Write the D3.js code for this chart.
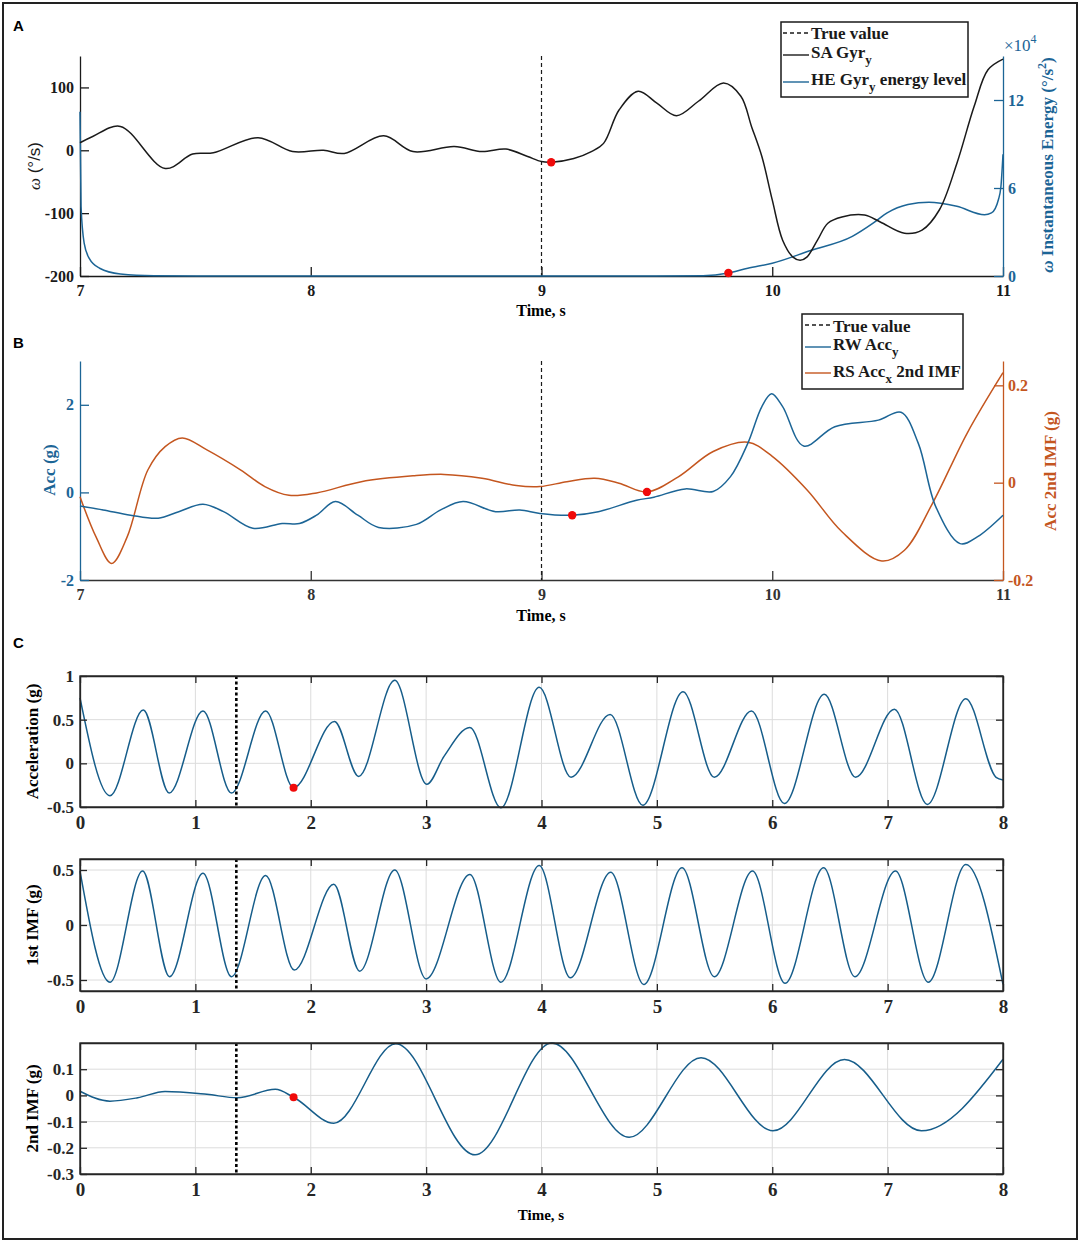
<!DOCTYPE html>
<html>
<head>
<meta charset="utf-8">
<script src="https://cdn.jsdelivr.net/npm/d3@7"></script>
<style>
body { margin: 0; background: #fff; }
text { font-family: "Liberation Serif", "Times New Roman", serif; font-weight: bold; }
</style>
</head>
<body>
<div id="chart"></div>
<script>
// ---------- data ----------

// Panel A: SA Gyr_y (deg/s) and HE Gyr_y energy level (x10^4)
const gyrTime  = [7.0, 7.055, 7.175, 7.369, 7.488, 7.578, 7.772, 7.921, 8.055, 8.145, 8.316, 8.443, 8.622, 8.742, 8.846, 8.94, 9.0, 9.042, 9.14, 9.216, 9.269, 9.336, 9.419, 9.5, 9.585, 9.68, 9.789, 9.864, 9.91, 9.955, 10.0, 10.045, 10.09, 10.121, 10.15, 10.196, 10.241, 10.302, 10.4, 10.468, 10.573, 10.649, 10.724, 10.8, 10.875, 10.935, 11.0];
const gyrValue = [12, 22, 38, -29, -6, -4, 20, -2, 0, -5, 23, -2, 6, -2, 2, -10, -18, -19, -13, -2, 11, 64, 94, 75, 55, 78, 107, 86, 38, -10, -79, -143, -170, -175, -170, -143, -116, -106, -103, -114, -132, -127, -95, -21, 70, 128, 145];
const energyTime  = [7.0, 7.0045, 7.018, 7.04, 7.085, 7.175, 7.32, 7.6, 8.5, 9.5, 9.7, 9.81, 9.894, 10.0, 10.166, 10.347, 10.437, 10.498, 10.588, 10.679, 10.8, 10.92, 10.95, 10.98, 10.991, 11.0];
const energyValue = [11.2, 4.75, 2.24, 1.2, 0.53, 0.14, 0.02, 0, 0, 0, 0.02, 0.2, 0.53, 0.87, 1.74, 2.7, 3.6, 4.3, 4.87, 5.03, 4.75, 4.18, 4.3, 5.2, 6.1, 8.3];

// Panel B: RW Acc_y (g) and RS Acc_x 2nd IMF (g)
const accTime  = [7.0, 7.1, 7.219, 7.339, 7.428, 7.533, 7.622, 7.749, 7.876, 7.951, 8.025, 8.107, 8.204, 8.294, 8.458, 8.563, 8.66, 8.801, 8.906, 8.993, 9.133, 9.246, 9.412, 9.487, 9.623, 9.744, 9.819, 9.894, 9.955, 9.997, 10.045, 10.136, 10.271, 10.46, 10.558, 10.633, 10.709, 10.814, 10.89, 11.0];
const accValue = [-0.31, -0.40, -0.52, -0.59, -0.44, -0.27, -0.44, -0.82, -0.71, -0.71, -0.52, -0.21, -0.52, -0.80, -0.73, -0.40, -0.21, -0.44, -0.40, -0.48, -0.52, -0.44, -0.18, -0.11, 0.08, 0.02, 0.36, 1.12, 1.96, 2.25, 1.96, 1.06, 1.50, 1.65, 1.83, 1.12, -0.33, -1.17, -1.01, -0.52];
const imfTime  = [7.0, 7.07, 7.137, 7.204, 7.294, 7.369, 7.443, 7.548, 7.697, 7.801, 7.906, 8.025, 8.219, 8.443, 8.578, 8.742, 8.891, 8.993, 9.11, 9.231, 9.336, 9.457, 9.593, 9.744, 9.894, 10.0, 10.151, 10.302, 10.475, 10.573, 10.694, 10.845, 11.0];
const imfValue = [-0.029, -0.112, -0.166, -0.112, 0.026, 0.074, 0.092, 0.068, 0.026, -0.008, -0.026, -0.021, 0.002, 0.014, 0.017, 0.009, -0.006, -0.008, 0.002, 0.009, -0.001, -0.019, 0.012, 0.064, 0.083, 0.054, -0.015, -0.101, -0.161, -0.139, -0.043, 0.102, 0.226];

// Panel C: acceleration, 1st IMF, 2nd IMF (g)
const c1Time  = [0, 0.26, 0.549, 0.773, 1.066, 1.313, 1.609, 1.851, 2.206, 2.415, 2.728, 3.006, 3.155, 3.379, 3.648, 3.98, 4.256, 4.595, 4.878, 5.227, 5.498, 5.82, 6.105, 6.451, 6.722, 7.059, 7.344, 7.678, 7.94, 8.0];
const c1Value = [0.75, -0.37, 0.61, -0.34, 0.60, -0.34, 0.60, -0.28, 0.48, -0.15, 0.95, -0.24, 0.08, 0.41, -0.51, 0.87, -0.16, 0.56, -0.48, 0.82, -0.16, 0.60, -0.46, 0.79, -0.16, 0.62, -0.47, 0.74, -0.16, -0.19];
const c2Time  = [0, 0.26, 0.543, 0.776, 1.066, 1.313, 1.609, 1.857, 2.2, 2.424, 2.728, 3.0, 3.379, 3.648, 3.98, 4.25, 4.6, 4.887, 5.218, 5.498, 5.829, 6.111, 6.445, 6.716, 7.068, 7.353, 7.678, 8.0];
const c2Value = [0.49, -0.52, 0.49, -0.47, 0.47, -0.47, 0.45, -0.41, 0.37, -0.42, 0.50, -0.49, 0.46, -0.52, 0.54, -0.48, 0.48, -0.54, 0.52, -0.47, 0.49, -0.53, 0.52, -0.47, 0.49, -0.52, 0.55, -0.54];
const c3Time  = [0, 0.26, 0.5, 0.737, 1.1, 1.364, 1.693, 1.851, 2.2, 2.737, 3.424, 4.09, 4.76, 5.383, 6.006, 6.626, 7.293, 8.0];
const c3Value = [0.016, -0.022, -0.009, 0.015, 0.004, -0.009, 0.023, -0.007, -0.106, 0.197, -0.227, 0.2, -0.16, 0.144, -0.135, 0.137, -0.135, 0.138];

// true value markers and detected points
const trueValueAB = 9.0;
const trueValueC = 1.355;
const detectA = [[9.042, -19]];
const detectAEnergy = [[9.81, 0.2]];
const detectBAcc = [[9.133, -0.52]];
const detectBImf = [[9.457, -0.019]];
const detectC1 = [[1.851, -0.28]];
const detectC3 = [[1.851, -0.007]];

// ticks
const timeTicksAB = [7, 8, 9, 10, 11];
const gyrTicks = [-200, -100, 0, 100];
const energyTicks = [0, 6, 12];
const accTicks = [-2, 0, 2];
const imfTicks = [-0.2, 0, 0.2];
const timeTicksC = [0, 1, 2, 3, 4, 5, 6, 7, 8];
const c1Ticks = [-0.5, 0, 0.5, 1];
const c2Ticks = [-0.5, 0, 0.5];
const c3Ticks = [-0.3, -0.2, -0.1, 0, 0.1];

// ---------- layout ----------
const width = 1084, height = 1246;
const xLeft = 80, xRight = 1003;
const black = "#1a1a1a", blue = "#1c6596", orange = "#c4561f", cBlue = "#165d8a";

const svg = d3.select("#chart")
    .append("svg")
    .attr("width", width)
    .attr("height", height);

// outer frame
svg.append("rect")
    .attr("x", 3).attr("y", 3)
    .attr("width", 1074).attr("height", 1236)
    .attr("fill", "none")
    .attr("stroke", "#222")
    .attr("stroke-width", 2);

const zip = (ts, vs) => ts.map((t, i) => [t, vs[i]]);
const fmt = d => String(d);
const smooth = d3.curveCatmullRom.alpha(0.5);

function styleAxis(g, color, size) {
    g.attr("font-family", null).attr("font-size", null);
    g.select(".domain").attr("stroke", color).attr("stroke-width", 1.3);
    g.selectAll(".tick line").attr("stroke", color).attr("stroke-width", 1.3);
    g.selectAll(".tick text").attr("fill", color).style("font-size", size + "px");
}

function drawLine(x, y, data, color, width, curve) {
    svg.append("path")
        .datum(data)
        .attr("fill", "none")
        .attr("stroke", color)
        .attr("stroke-width", width)
        .attr("d", d3.line().x(d => x(d[0])).y(d => y(d[1])).curve(curve || d3.curveMonotoneX));
}

function drawDots(x, y, data, r) {
    svg.selectAll(null)
        .data(data)
        .enter().append("circle")
        .attr("cx", d => x(d[0]))
        .attr("cy", d => y(d[1]))
        .attr("r", r)
        .attr("fill", "#f00a0a");
}

function rotLabel(x, y, color, size) {
    return svg.append("text")
        .attr("transform", `translate(${x},${y}) rotate(-90)`)
        .attr("text-anchor", "middle")
        .attr("fill", color)
        .style("font-size", size + "px");
}

function legendEntry(x, y, lineY, color, dash) {
    svg.append("line")
        .attr("x1", x).attr("x2", x + 26)
        .attr("y1", lineY).attr("y2", lineY)
        .attr("stroke", color)
        .attr("stroke-width", 1.4)
        .attr("stroke-dasharray", dash);
    return svg.append("text")
        .attr("x", x + 28).attr("y", y)
        .attr("fill", black)
        .style("font-size", "17px");
}

// subscript followed by optional trailing text
function sub(t, s, rest) {
    t.append("tspan").attr("dy", 6).style("font-size", "13px").text(s);
    t.append("tspan").attr("dy", -6).text(rest || "");
}

// ---------- Panel A ----------
const aTop = 56, aBottom = 276;
const xA = d3.scaleLinear().domain([7, 11]).range([xLeft, xRight]);
const yA = d3.scaleLinear().domain([-200, 150]).range([aBottom, aTop]);
const yAE = d3.scaleLinear().domain([0, 15]).range([aBottom, aTop]);

svg.append("text").attr("x", 13).attr("y", 31)
    .style("font-family", "Liberation Sans, Arial, sans-serif")
    .style("font-size", "15px").text("A");

svg.append("g").attr("transform", `translate(0,${aBottom})`)
    .call(d3.axisBottom(xA).tickValues(timeTicksAB).tickSize(-9).tickSizeOuter(0).tickPadding(9).tickFormat(fmt))
    .call(g => styleAxis(g, black, 16));
svg.append("g").attr("transform", `translate(${xLeft},0)`)
    .call(d3.axisLeft(yA).tickValues(gyrTicks).tickSize(-9).tickSizeOuter(0).tickPadding(6).tickFormat(fmt))
    .call(g => styleAxis(g, black, 16));
svg.append("g").attr("transform", `translate(${xRight},0)`)
    .call(d3.axisRight(yAE).tickValues(energyTicks).tickSize(-9).tickSizeOuter(0).tickPadding(5).tickFormat(fmt))
    .call(g => styleAxis(g, blue, 16));

const expA = svg.append("text").attr("x", 1004).attr("y", 51)
    .attr("fill", blue).style("font-size", "17px").style("font-weight", "normal").text("×10");
expA.append("tspan").attr("dy", -8).style("font-size", "12px").text("4");

svg.append("line")
    .attr("x1", xA(trueValueAB)).attr("x2", xA(trueValueAB))
    .attr("y1", aTop).attr("y2", aBottom)
    .attr("stroke", black).attr("stroke-width", 1.2).attr("stroke-dasharray", "4,3");

drawLine(xA, yAE, zip(energyTime, energyValue), blue, 1.5);
drawLine(xA, yA, zip(gyrTime, gyrValue), black, 1.5, smooth);
drawDots(xA, yA, detectA, 4.2);
drawDots(xA, yAE, detectAEnergy, 4.2);

const labA = rotLabel(40, 166, black, 17);
labA.append("tspan").style("font-style", "italic").style("font-weight", "normal").text("ω");
labA.append("tspan").style("font-family", "Liberation Sans, Arial, sans-serif").style("font-weight", "normal").text(" (°/s)");

const labAE = rotLabel(1053, 165, blue, 17);
labAE.append("tspan").style("font-style", "italic").text("ω");
labAE.append("tspan").text(" Instantaneous Energy (°/s");
labAE.append("tspan").attr("dy", -7).style("font-size", "12px").text("2");
labAE.append("tspan").attr("dy", 7).text(")");

svg.append("text").attr("x", 541).attr("y", 316).attr("text-anchor", "middle")
    .style("font-size", "16px").text("Time, s");

// legend A
svg.append("rect").attr("x", 781).attr("y", 22).attr("width", 187).attr("height", 75)
    .attr("fill", "#fff").attr("stroke", black).attr("stroke-width", 1.5);
legendEntry(783, 39, 33, black, "4,3").text("True value");
sub(legendEntry(783, 58, 55, black, null).text("SA Gyr"), "y");
sub(legendEntry(783, 85, 82, blue, null).text("HE Gyr"), "y", " energy level");

// ---------- Panel B ----------
const bTop = 361, bBottom = 580;
const xB = d3.scaleLinear().domain([7, 11]).range([xLeft, xRight]);
const yB = d3.scaleLinear().domain([-2, 3]).range([bBottom, bTop]);
const yBR = d3.scaleLinear().domain([-0.2, 0.25]).range([bBottom, bTop]);

svg.append("text").attr("x", 13).attr("y", 348)
    .style("font-family", "Liberation Sans, Arial, sans-serif")
    .style("font-size", "15px").text("B");

svg.append("g").attr("transform", `translate(0,${bBottom})`)
    .call(d3.axisBottom(xB).tickValues(timeTicksAB).tickSize(-9).tickSizeOuter(0).tickPadding(9).tickFormat(fmt))
    .call(g => styleAxis(g, "#333", 16));
svg.append("g").attr("transform", `translate(${xLeft},0)`)
    .call(d3.axisLeft(yB).tickValues(accTicks).tickSize(-9).tickSizeOuter(0).tickPadding(6).tickFormat(fmt))
    .call(g => styleAxis(g, blue, 16));
svg.append("g").attr("transform", `translate(${xRight},0)`)
    .call(d3.axisRight(yBR).tickValues(imfTicks).tickSize(-9).tickSizeOuter(0).tickPadding(5).tickFormat(fmt))
    .call(g => styleAxis(g, orange, 16));

svg.append("line")
    .attr("x1", xB(trueValueAB)).attr("x2", xB(trueValueAB))
    .attr("y1", bTop).attr("y2", bBottom)
    .attr("stroke", black).attr("stroke-width", 1.2).attr("stroke-dasharray", "4,3");

drawLine(xB, yBR, zip(imfTime, imfValue), orange, 1.5, smooth);
drawLine(xB, yB, zip(accTime, accValue), blue, 1.5, smooth);
drawDots(xB, yB, detectBAcc, 4.2);
drawDots(xB, yBR, detectBImf, 4.2);

rotLabel(55, 470, blue, 17).text("Acc (g)");
rotLabel(1056, 471, orange, 17).text("Acc 2nd IMF (g)");

svg.append("text").attr("x", 541).attr("y", 621).attr("text-anchor", "middle")
    .style("font-size", "16px").text("Time, s");

// legend B
svg.append("rect").attr("x", 802).attr("y", 314).attr("width", 161).attr("height", 75)
    .attr("fill", "#fff").attr("stroke", black).attr("stroke-width", 1.5);
legendEntry(805, 332, 325, black, "4,3").text("True value");
sub(legendEntry(805, 350, 347, blue, null).text("RW Acc"), "y");
sub(legendEntry(805, 377, 373, orange, null).text("RS Acc"), "x", " 2nd IMF");

// ---------- Panel C ----------
svg.append("text").attr("x", 13).attr("y", 648)
    .style("font-family", "Liberation Sans, Arial, sans-serif")
    .style("font-size", "15px").text("C");

const xC = d3.scaleLinear().domain([0, 8]).range([xLeft, xRight]);

function drawSubplot(top, bottom, domain, ticks, series, label, dots) {
    const y = d3.scaleLinear().domain(domain).range([bottom, top]);

    // grid
    svg.append("g").selectAll("line").data(timeTicksC.slice(1, -1)).enter().append("line")
        .attr("x1", d => xC(d)).attr("x2", d => xC(d))
        .attr("y1", top).attr("y2", bottom)
        .attr("stroke", "#dcdcdc").attr("stroke-width", 1);
    svg.append("g").selectAll("line").data(ticks.filter(t => y(t) > top + 1 && y(t) < bottom - 1)).enter().append("line")
        .attr("x1", xLeft).attr("x2", xRight)
        .attr("y1", d => y(d)).attr("y2", d => y(d))
        .attr("stroke", "#dcdcdc").attr("stroke-width", 1);

    drawLine(xC, y, series, cBlue, 1.5);

    svg.append("line")
        .attr("x1", xC(trueValueC)).attr("x2", xC(trueValueC))
        .attr("y1", top).attr("y2", bottom)
        .attr("stroke", "#000").attr("stroke-width", 2.6).attr("stroke-dasharray", "3,2.5");

    if (dots) drawDots(xC, y, dots, 4);

    // box with inward ticks on all sides
    svg.append("g").attr("transform", `translate(0,${bottom})`)
        .call(d3.axisBottom(xC).tickValues(timeTicksC).tickSize(-7).tickSizeOuter(0).tickPadding(8.5).tickFormat(fmt))
        .call(g => styleAxis(g, "#262626", 19));
    svg.append("g").attr("transform", `translate(0,${top})`)
        .call(d3.axisTop(xC).tickValues(timeTicksC).tickSize(-7).tickSizeOuter(0).tickFormat(""))
        .call(g => styleAxis(g, "#262626", 19));
    svg.append("g").attr("transform", `translate(${xLeft},0)`)
        .call(d3.axisLeft(y).tickValues(ticks).tickSize(-7).tickSizeOuter(0).tickPadding(6).tickFormat(fmt))
        .call(g => styleAxis(g, "#262626", 17));
    svg.append("g").attr("transform", `translate(${xRight},0)`)
        .call(d3.axisRight(y).tickValues(ticks).tickSize(-7).tickSizeOuter(0).tickFormat(""))
        .call(g => styleAxis(g, "#262626", 17));
    svg.append("rect")
        .attr("x", xLeft).attr("y", top)
        .attr("width", xRight - xLeft).attr("height", bottom - top)
        .attr("fill", "none").attr("stroke", "#262626").attr("stroke-width", 1.4);

    rotLabel(38, (top + bottom) / 2, "#000", 17).text(label);
}

drawSubplot(676, 807, [-0.5, 1], c1Ticks, zip(c1Time, c1Value), "Acceleration (g)", detectC1);
drawSubplot(859, 991, [-0.6, 0.6], c2Ticks, zip(c2Time, c2Value), "1st IMF (g)", null);
drawSubplot(1043, 1174, [-0.3, 0.2], c3Ticks, zip(c3Time, c3Value), "2nd IMF (g)", detectC3);

svg.append("text").attr("x", 541).attr("y", 1220).attr("text-anchor", "middle")
    .style("font-size", "15px").text("Time, s");
</script>
</body>
</html>
